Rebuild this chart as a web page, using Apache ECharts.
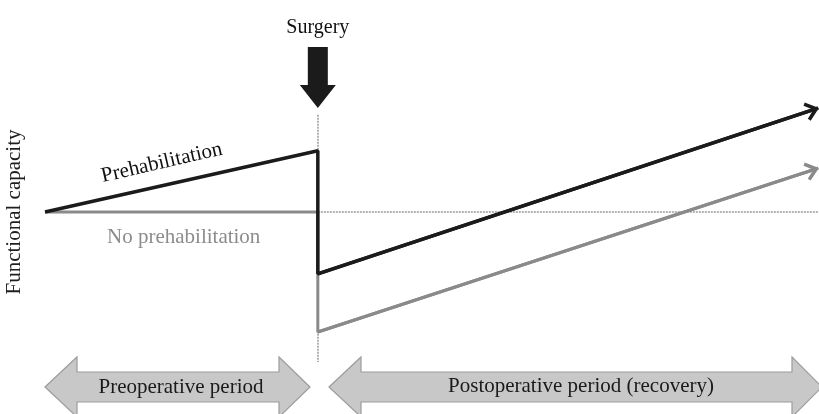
<!DOCTYPE html>
<html>
<head>
<meta charset="utf-8">
<script src="https://cdn.jsdelivr.net/npm/echarts@6/dist/echarts.min.js"></script>
<style>html,body{margin:0;padding:0;background:#fff}#c{width:819px;height:414px}</style>
</head>
<body>
<div id="c"></div>
<script>
// Conceptual time axis: 0 = start of preoperative period, 6 = surgery, 17 = end of recovery
const timePoints = [0, 6, 6, 17];
const prehabValues = [50, 60.2, 39.7, 67.3];
const noPrehabValues = [50, 50, 30, 57.3];
const surgeryTime = 6;
const baselineValue = 50;
const labels = {
  yAxis: 'Functional capacity',
  surgery: 'Surgery',
  prehab: 'Prehabilitation',
  noPrehab: 'No prehabilitation',
  preop: 'Preoperative period',
  postop: 'Postoperative period (recovery)'
};

const FONT = '"Liberation Serif", "DejaVu Serif", serif';
const BLACK = '#1b1b1b';
const GRAY = '#8a8a8a';
const chevron = 'path://M9,0 L18,11 L15.5,13 L9,5.5 L2.5,13 L0,11 Z';
const surgeryArrow = 'path://M8,0 L28,0 L28,38 L36,38 L18,61 L0,38 L8,38 Z';

const pts = (ys) => timePoints.map((t, i) => [t, ys[i]]);
const prehab = pts(prehabValues);
const noPrehab = pts(noPrehabValues);

function arrowLine(data, color, width) {
  const n = data.length;
  return {
    silent: true,
    symbol: ['none', chevron],
    symbolSize: [19, 14],
    symbolOffset: [0, [0, 6]],
    label: { show: false },
    lineStyle: { color: color, width: width, type: 'solid' },
    data: [[{ coord: data[n - 2] }, { coord: data[n - 1] }]]
  };
}

const chart = echarts.init(document.getElementById('c'), null, { renderer: 'canvas' });

function doubleArrow(tipL, baseL, baseR, tipR, cy) {
  const b = 15, h = 30;
  return [[tipL, cy], [baseL, cy - h], [baseL, cy - b], [baseR, cy - b], [baseR, cy - h], [tipR, cy],
          [baseR, cy + h], [baseR, cy + b], [baseL, cy + b], [baseL, cy + h]];
}

const hidden = { symbol: 'rect', symbolSize: 1, itemStyle: { color: 'rgba(0,0,0,0)' } };

const option = {
  animation: false,
  backgroundColor: '#fff',
  grid: { left: 45, right: 1, top: 32, bottom: 22, outerBoundsMode: 'none', containLabel: false },
  xAxis: {
    type: 'value', min: 0, max: 17,
    axisLine: { show: false }, axisTick: { show: false }, axisLabel: { show: false }, splitLine: { show: false }
  },
  yAxis: {
    type: 'value', min: 20, max: 80,
    name: labels.yAxis, nameLocation: 'middle', nameRotate: 90, nameGap: 20,
    nameTextStyle: { fontFamily: FONT, fontSize: 21, color: '#1e1e1e' },
    axisLine: { show: false }, axisTick: { show: false }, axisLabel: { show: false }, splitLine: { show: false }
  },
  series: [
    {
      type: 'line', silent: true, symbol: 'none', data: [], z: 0,
      markLine: {
        silent: true, z: 0, symbol: ['none', 'none'], label: { show: false },
        lineStyle: { color: '#9a9a9a', width: 1.5, type: [2, 1] },
        data: [
          [{ coord: [surgeryTime, baselineValue] }, { coord: [17, baselineValue] }],
          [{ coord: [surgeryTime, 66.2] }, { coord: [surgeryTime, 25] }]
        ]
      }
    },
    {
      name: labels.noPrehab, type: 'line', silent: true, symbol: 'none', z: 3,
      lineStyle: { color: GRAY, width: 3 }, data: noPrehab,
      markLine: Object.assign(arrowLine(noPrehab, GRAY, 3), { z: 3 }),
      markPoint: Object.assign({
        silent: true,
        label: { show: true, formatter: labels.noPrehab, fontFamily: FONT, fontSize: 21, color: '#8c8c8c', position: 'inside' },
        data: [{ coord: [3.05, 45.7] }]
      }, hidden)
    },
    {
      name: labels.prehab, type: 'line', silent: true, symbol: 'none', z: 4,
      lineStyle: { color: BLACK, width: 3.5 }, data: prehab,
      markLine: Object.assign(arrowLine(prehab, BLACK, 3.5), { z: 4 }),
      markPoint: {
        silent: true,
        data: [
          Object.assign({ coord: [2.57, 58.2],
            label: { show: true, formatter: labels.prehab, fontFamily: FONT, fontSize: 21, color: '#111', position: 'inside', rotate: 13 } }, hidden),
          { coord: [surgeryTime, 72.4], symbol: surgeryArrow, symbolSize: [36, 61],
            itemStyle: { color: BLACK },
            label: { show: true, formatter: labels.surgery, fontFamily: FONT, fontSize: 20, color: '#111', position: 'top', distance: 9 } }
        ]
      }
    }
  ],
  graphic: [
    { type: 'polygon', silent: true, shape: { points: doubleArrow(45, 77, 279, 310, 387) },
      style: { fill: '#c8c8c8', stroke: '#9c9c9c', lineWidth: 1.2 } },
    { type: 'polygon', silent: true, shape: { points: doubleArrow(329, 361, 792, 822, 387) },
      style: { fill: '#c8c8c8', stroke: '#9c9c9c', lineWidth: 1.2 } },
    { type: 'text', silent: true, x: 181, y: 387,
      style: { text: labels.preop, font: '21px ' + FONT, fill: '#1a1a1a', align: 'center', verticalAlign: 'middle' } },
    { type: 'text', silent: true, x: 581, y: 386,
      style: { text: labels.postop, font: '21px ' + FONT, fill: '#1a1a1a', align: 'center', verticalAlign: 'middle' } }
  ]
};
chart.setOption(option);
</script>
</body>
</html>
